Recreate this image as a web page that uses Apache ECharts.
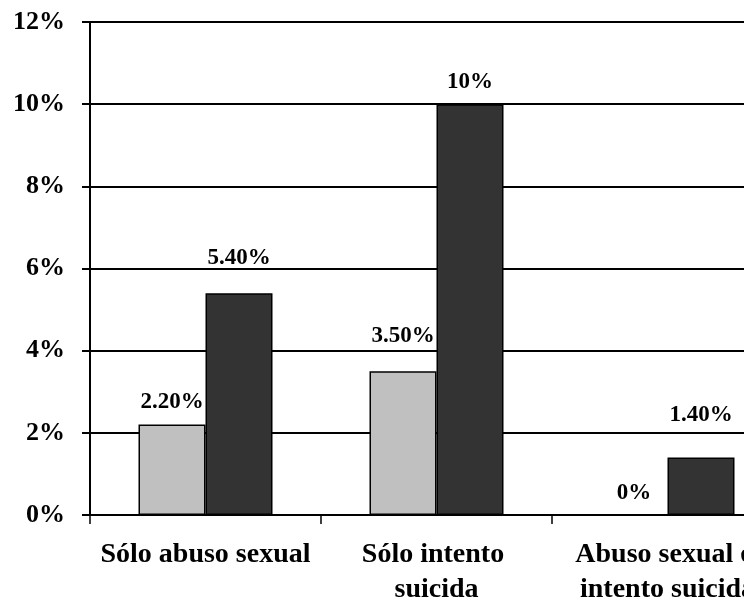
<!DOCTYPE html>
<html>
<head>
<meta charset="utf-8">
<script src="https://cdn.jsdelivr.net/npm/echarts@6/dist/echarts.min.js"></script>
<style>
html,body{margin:0;padding:0;background:#fff;overflow:hidden;}
#chart{width:744px;height:607px;}
</style>
</head>
<body>
<div id="chart"></div>
<script>
// Data
const categories = ['Sólo abuso sexual', 'Sólo intento suicida', 'Abuso sexual e intento suicida'];
const seriesLight = [2.2, 3.5, 0];
const seriesDark = [5.4, 10, 1.4];
const yTicks = [0, 2, 4, 6, 8, 10, 12];

// Label placement (style only)
const lightLabelGap = [12, 24, 10];
const darkLabelGap = [24, 11, 31];

const FONT = '"Liberation Serif", "Times New Roman", serif';

function fmt(v) {
  return (Number.isInteger(v) ? String(v) : v.toFixed(2)) + '%';
}
function build(values, gaps) {
  return values.map((v, i) => ({ value: v, label: { distance: gaps[i] } }));
}

const chart = echarts.init(document.getElementById('chart'), null, { renderer: 'canvas' });
const labelStyle = {
  show: true,
  position: 'top',
  fontFamily: FONT,
  fontWeight: 'bold',
  fontSize: 23,
  lineHeight: 22,
  color: '#000',
  formatter: p => fmt(p.value)
};
chart.setOption({
  animation: false,
  backgroundColor: '#fff',
  grid: { left: 90, right: -39, top: 22, bottom: 92, containLabel: false, outerBoundsMode: 'none' },
  xAxis: {
    type: 'category',
    data: categories,
    boundaryGap: true,
    axisLine: { show: true, lineStyle: { color: '#000', width: 2 } },
    axisTick: { show: true, alignWithLabel: false, length: 9, lineStyle: { color: '#000', width: 1.5 } },
    axisLabel: {
      interval: 0,
      margin: 22,
      width: 226,
      overflow: 'break',
      fontFamily: FONT,
      fontWeight: 'bold',
      fontSize: 28,
      lineHeight: 35,
      color: '#000'
    },
    splitLine: { show: false }
  },
  yAxis: {
    type: 'value',
    min: yTicks[0],
    max: yTicks[yTicks.length - 1],
    interval: yTicks[1] - yTicks[0],
    axisLine: { show: true, lineStyle: { color: '#000', width: 2 } },
    axisTick: { show: true, length: 8, lineStyle: { color: '#000', width: 2 } },
    axisLabel: {
      margin: 25,
      fontFamily: FONT,
      fontWeight: 'bold',
      fontSize: 26,
      color: '#000',
      formatter: v => v + '%'
    },
    splitLine: { show: true, lineStyle: { color: '#000', width: 2 } }
  },
  series: [
    {
      type: 'bar',
      data: build(seriesLight, lightLabelGap),
      barWidth: 67,
      barGap: '0%',
      itemStyle: { color: '#c0c0c0', borderColor: '#000', borderWidth: 1.5 },
      label: labelStyle
    },
    {
      type: 'bar',
      data: build(seriesDark, darkLabelGap),
      barWidth: 67,
      barGap: '0%',
      itemStyle: { color: '#333333', borderColor: '#000', borderWidth: 1.5 },
      label: labelStyle
    }
  ]
});
</script>
</body>
</html>
